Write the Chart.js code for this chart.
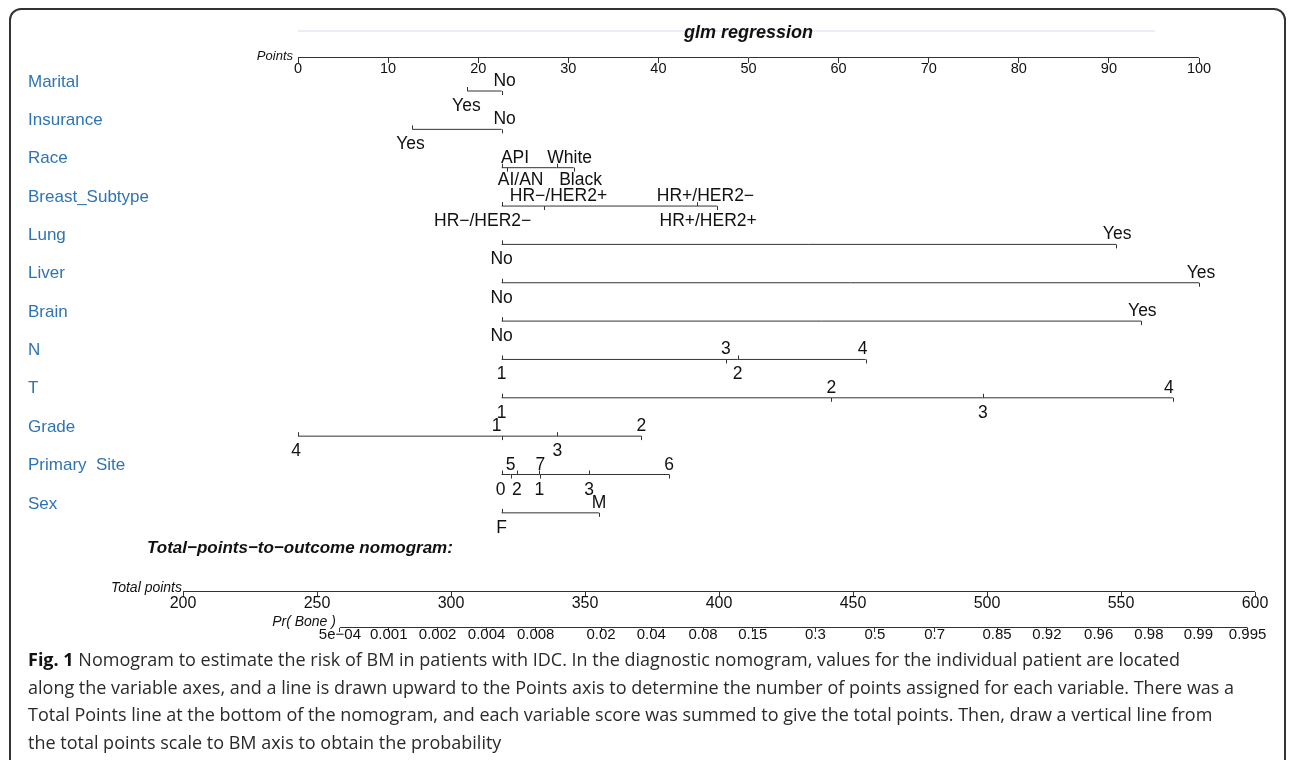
<!DOCTYPE html>
<html>
<head>
<meta charset="utf-8">
<script src="https://cdn.jsdelivr.net/npm/chart.js@4.4.1/dist/chart.umd.min.js"></script>
<style>
  html, body { margin: 0; padding: 0; background: #fff; }
  #wrap { position: relative; width: 1292px; height: 760px; overflow: hidden; background: #fff; }
  #chartBox { position: absolute; left: 0; top: 0; width: 1292px; height: 760px; }
  #frame { position: absolute; left: 9px; top: 8px; width: 1277px; height: 770px; border: 2px solid #333;
           border-radius: 12px; box-sizing: border-box; pointer-events: none; }
  #caption { position: absolute; left: 28px; top: 645px; font-family: "Open Sans", "Noto Sans", sans-serif;
             font-size: 18.5px; line-height: 27.5px; color: #2a2a2a; white-space: nowrap; transform-origin: 0 0; }
  #caption b { font-weight: 700; color: #111; }
</style>
</head>
<body>
<div id="wrap">
  <div id="chartBox"><canvas id="c"></canvas></div>
  <div id="frame"></div>
  <div id="caption"><span id="cap1"><b>Fig. 1</b> Nomogram to estimate the risk of BM in patients with IDC. In the diagnostic nomogram, values for the individual patient are located</span><br><span>along the variable axes, and a line is drawn upward to the Points axis to determine the number of points assigned for each variable. There was a</span><br><span>Total Points line at the bottom of the nomogram, and each variable score was summed to give the total points. Then, draw a vertical line from</span><br><span>the total points scale to BM axis to obtain the probability</span></div>
</div>
<script>
// ================= DATA =================
const variableNames = ['Marital', 'Insurance', 'Race', 'Breast_Subtype', 'Lung', 'Liver', 'Brain', 'N', 'T', 'Grade', 'Primary  Site', 'Sex'];

const maritalLevels = ['No', 'Yes'];
const maritalPoints = [22.6, 18.8];
const insuranceLevels = ['No', 'Yes'];
const insurancePoints = [22.6, 12.7];
const raceLevels = ['AI/AN', 'API', 'Black', 'White'];
const racePoints = [22.6, 23.2, 28.7, 30.6];
const subtypeLevels = ['HR\u2212/HER2\u2212', 'HR\u2212/HER2+', 'HR+/HER2+', 'HR+/HER2\u2212'];
const subtypePoints = [22.6, 27.3, 44.3, 46.5];
const lungLevels = ['No', 'Yes'];
const lungPoints = [22.6, 90.8];
const liverLevels = ['No', 'Yes'];
const liverPoints = [22.6, 100];
const brainLevels = ['No', 'Yes'];
const brainPoints = [22.6, 93.6];
const nLevels = ['1', '2', '3', '4'];
const nPoints = [22.6, 48.8, 47.5, 63.0];
const tLevels = ['1', '2', '3', '4'];
const tPoints = [22.6, 59.2, 76.0, 97.1];
const gradeLevels = ['1', '2', '3', '4'];
const gradePoints = [22.6, 38.1, 28.8, 0];
const siteLevels = ['0', '1', '2', '3', '5', '6', '7'];
const sitePoints = [22.6, 26.8, 24.3, 32.3, 23.6, 41.2, 26.9];
const sexLevels = ['F', 'M'];
const sexPoints = [22.6, 33.4];

const pointsAxisTicks = [0, 10, 20, 30, 40, 50, 60, 70, 80, 90, 100];
const totalAxisTicks = [200, 250, 300, 350, 400, 450, 500, 550, 600];
const probTicks = [0.0005, 0.001, 0.002, 0.004, 0.008, 0.02, 0.04, 0.08, 0.15, 0.3, 0.5, 0.7, 0.85, 0.92, 0.96, 0.98, 0.99, 0.995];
const probTickLabels = ['5e\u221204', '0.001', '0.002', '0.004', '0.008', '0.02', '0.04', '0.08', '0.15', '0.3', '0.5', '0.7', '0.85', '0.92', '0.96', '0.98', '0.99', '0.995'];

// linear predictor of the model as a function of total points: lp = lpSlope * (total - totalAtHalf)
const lpSlope = 0.03807;
const totalAtHalf = 458.2;

// ================= LAYOUT / STYLE =================
// label side per level: 'a' above the line, 'b' below
const labelSides = [
  ['a', 'b'], ['a', 'b'], ['b', 'a', 'b', 'a'], ['b', 'a', 'b', 'a'],
  ['b', 'a'], ['b', 'a'], ['b', 'a'],
  ['b', 'b', 'a', 'a'], ['b', 'a', 'b', 'a'], ['a', 'a', 'b', 'b'],
  ['b', 'b', 'b', 'b', 'a', 'a', 'a'], ['b', 'a']
];
// horizontal label nudges (px) to mimic the reference's overlap handling
const labelNudges = [
  [3, -1], [3, -2], [19, 8, 24, -4], [-19, 14.5, 11, -11.5],
  [0, 1], [0, 2], [0, 1],
  [0, 0, 0, -3], [0, 0, 0, -4], [-5, 0, 0, -2],
  [-1, 0, 0, 0, 0, 0, 0], [0, 0]
];
// baseline offset (px) of below-line labels per variable
const belowBaseline = [20, 20, 17.5, 20, 20, 20, 20, 20, 20, 20, 20, 20];
const L = {
  plotLeft: 183, plotRight: 1255,
  pts0: 298, pts100: 1199,
  row0: 91, rowStep: 38.35, yMin: -2, yMax: 16,
  pointsAxisPx: 57.5, totalAxisPx: 591.5, probAxisPx: 627.5,
  W: 1292, H: 760
};
const ptPx = (L.pts100 - L.pts0) / 100;
const ptsMin = (L.plotLeft - L.pts0) / ptPx;
const ptsMax = 100 + (L.plotRight - L.pts100) / ptPx;
const rowOf = px => (px - L.row0) / L.rowStep;
const POINTS_ROW = rowOf(L.pointsAxisPx);
const TOTAL_ROW = rowOf(L.totalAxisPx);
const PROB_ROW = rowOf(L.probAxisPx);
const padTop = L.row0 + L.yMin * L.rowStep;
const padBottom = L.H - (L.row0 + L.yMax * L.rowStep);
const logit = p => Math.log(p / (1 - p));
const lpOfTotal = t => lpSlope * (t - totalAtHalf);
const totMin = totalAxisTicks[0], totMax = totalAxisTicks[totalAxisTicks.length - 1];

const FONT = '"Liberation Sans", Arial, sans-serif';
const LINE = '#333';
const NAME_BLUE = '#2e74b5';

const variables = [
  [maritalLevels, maritalPoints], [insuranceLevels, insurancePoints], [raceLevels, racePoints],
  [subtypeLevels, subtypePoints], [lungLevels, lungPoints], [liverLevels, liverPoints],
  [brainLevels, brainPoints], [nLevels, nPoints], [tLevels, tPoints], [gradeLevels, gradePoints],
  [siteLevels, sitePoints], [sexLevels, sexPoints]
].map(([levels, points], i) => ({ name: variableNames[i], levels, points, sides: labelSides[i],
  nudges: labelNudges[i], below: belowBaseline[i], row: i }));

// ================= DATASETS =================
const lineStyle = { showLine: true, borderColor: LINE, borderWidth: 1, pointRadius: 0, pointHoverRadius: 0, fill: false, yAxisID: 'y' };
const datasets = variables.map(v => Object.assign({
  label: v.name, xAxisID: 'pts',
  data: v.points.slice().sort((a, b) => a - b).map(p => ({ x: p, y: v.row }))
}, lineStyle));
datasets.push(Object.assign({ label: 'Points', xAxisID: 'pts',
  data: [{ x: pointsAxisTicks[0], y: POINTS_ROW }, { x: pointsAxisTicks[pointsAxisTicks.length - 1], y: POINTS_ROW }] }, lineStyle));
datasets.push(Object.assign({ label: 'Total points', xAxisID: 'tot',
  data: [{ x: totMin, y: TOTAL_ROW }, { x: totMax, y: TOTAL_ROW }] }, lineStyle));
datasets.push(Object.assign({ label: 'Pr( Bone )', xAxisID: 'lp',
  data: [{ x: logit(probTicks[0]), y: PROB_ROW }, { x: logit(probTicks[probTicks.length - 1]), y: PROB_ROW }] }, lineStyle));

function axisOpts(extra) {
  return Object.assign({
    type: 'linear', axis: 'x', display: true, offset: false,
    border: { display: false },
    grid: { display: true, drawOnChartArea: false, drawTicks: true, color: LINE, lineWidth: 1, tickLength: 5 },
  }, extra);
}

// ================= PLUGIN: nomogram ticks, labels, titles =================
const nomoPlugin = {
  id: 'nomo',
  afterDatasetsDraw(chart) {
    const ctx = chart.ctx;
    const xs = chart.scales.pts, ys = chart.scales.y, lp = chart.scales.lp, tot = chart.scales.tot;
    ctx.save();
    // faint rule behind the title
    ctx.strokeStyle = '#eceef7'; ctx.lineWidth = 2;
    ctx.beginPath(); ctx.moveTo(xs.getPixelForValue(0), 31); ctx.lineTo(xs.getPixelForValue(95.1), 31); ctx.stroke();
    // title
    ctx.fillStyle = '#111';
    ctx.font = 'italic bold 18px ' + FONT;
    ctx.textAlign = 'center'; ctx.textBaseline = 'middle';
    ctx.fillText('glm regression', xs.getPixelForValue(50), 33);

    variables.forEach(v => {
      const py = ys.getPixelForValue(v.row);
      // variable name
      ctx.font = '17px ' + FONT; ctx.fillStyle = NAME_BLUE;
      ctx.textAlign = 'left'; ctx.textBaseline = 'middle';
      ctx.fillText(v.name, 28, py - 9);
      // ticks + labels
      v.points.forEach((p, j) => {
        const px = xs.getPixelForValue(p);
        const above = v.sides[j] === 'a';
        const tx = Math.round(px) + 0.5;
        ctx.strokeStyle = LINE; ctx.lineWidth = 1;
        ctx.beginPath();
        if (above) { ctx.moveTo(tx, py); ctx.lineTo(tx, py + 4); }
        else { ctx.moveTo(tx, py - 4); ctx.lineTo(tx, py); }
        ctx.stroke();
        ctx.font = '17.5px ' + FONT; ctx.fillStyle = '#111';
        ctx.textAlign = 'center'; ctx.textBaseline = 'alphabetic';
        ctx.fillText(v.levels[j], px + v.nudges[j], above ? py - 5 : py + v.below);
      });
    });

    // axis titles
    ctx.fillStyle = '#111'; ctx.textAlign = 'right'; ctx.textBaseline = 'middle';
    ctx.font = 'italic 13px ' + FONT;
    ctx.fillText('Points', xs.getPixelForValue(0) - 5, ys.getPixelForValue(POINTS_ROW) - 1);
    ctx.font = 'italic 14px ' + FONT;
    ctx.fillText('Total points', tot.getPixelForValue(totMin) - 1, ys.getPixelForValue(TOTAL_ROW) - 3);
    ctx.fillText('Pr( Bone )', lp.getPixelForValue(logit(probTicks[0])) - 4, ys.getPixelForValue(PROB_ROW) - 5);

    ctx.textAlign = 'left';
    ctx.font = 'italic bold 17px ' + FONT;
    ctx.fillText('Total\u2212points\u2212to\u2212outcome nomogram:', 147, 548);
    ctx.restore();
  }
};

new Chart(document.getElementById('c'), {
  type: 'scatter',
  data: { datasets },
  plugins: [nomoPlugin],
  options: {
    responsive: true, maintainAspectRatio: false, animation: false, devicePixelRatio: 1,
    events: [],
    layout: { padding: { left: L.plotLeft, right: L.W - L.plotRight, top: padTop, bottom: padBottom } },
    plugins: { legend: { display: false }, tooltip: { enabled: false }, title: { display: false } },
    scales: {
      y: { type: 'linear', axis: 'y', display: false, reverse: true, min: L.yMin, max: L.yMax },
      pts: axisOpts({
        min: ptsMin, max: ptsMax, position: { y: POINTS_ROW },
        afterBuildTicks: s => { s.ticks = pointsAxisTicks.map(v => ({ value: v })); },
        ticks: { autoSkip: false, maxRotation: 0, minRotation: 0, padding: -1, color: '#111',
                 font: { family: FONT, size: 14.5, lineHeight: 1 }, callback: v => String(v) }
      }),
      tot: axisOpts({
        min: totMin, max: totMax, position: { y: TOTAL_ROW },
        afterBuildTicks: s => { s.ticks = totalAxisTicks.map(v => ({ value: v })); },
        ticks: { autoSkip: false, maxRotation: 0, minRotation: 0, padding: -1, color: '#111',
                 font: { family: FONT, size: 16, lineHeight: 1 }, callback: v => String(v) }
      }),
      lp: axisOpts({
        min: lpOfTotal(totMin), max: lpOfTotal(totMax), position: { y: PROB_ROW },
        grid: { display: true, drawOnChartArea: false, drawTicks: true, color: LINE, lineWidth: 1, tickLength: 4 },
        afterBuildTicks: s => { s.ticks = probTicks.map(p => ({ value: logit(p) })); },
        ticks: { autoSkip: false, maxRotation: 0, minRotation: 0, padding: -4.5, color: '#111',
                 font: { family: FONT, size: 15, lineHeight: 1 }, callback: (v, i) => probTickLabels[i] }
      })
    }
  }
});

// fit caption width to the reference's line length
(function () {
  const cap = document.getElementById('caption');
  const w = document.getElementById('cap1').getBoundingClientRect().width;
  if (w > 0) cap.style.transform = 'scaleX(' + (1152 / w) + ')';
})();
</script>
</body>
</html>
